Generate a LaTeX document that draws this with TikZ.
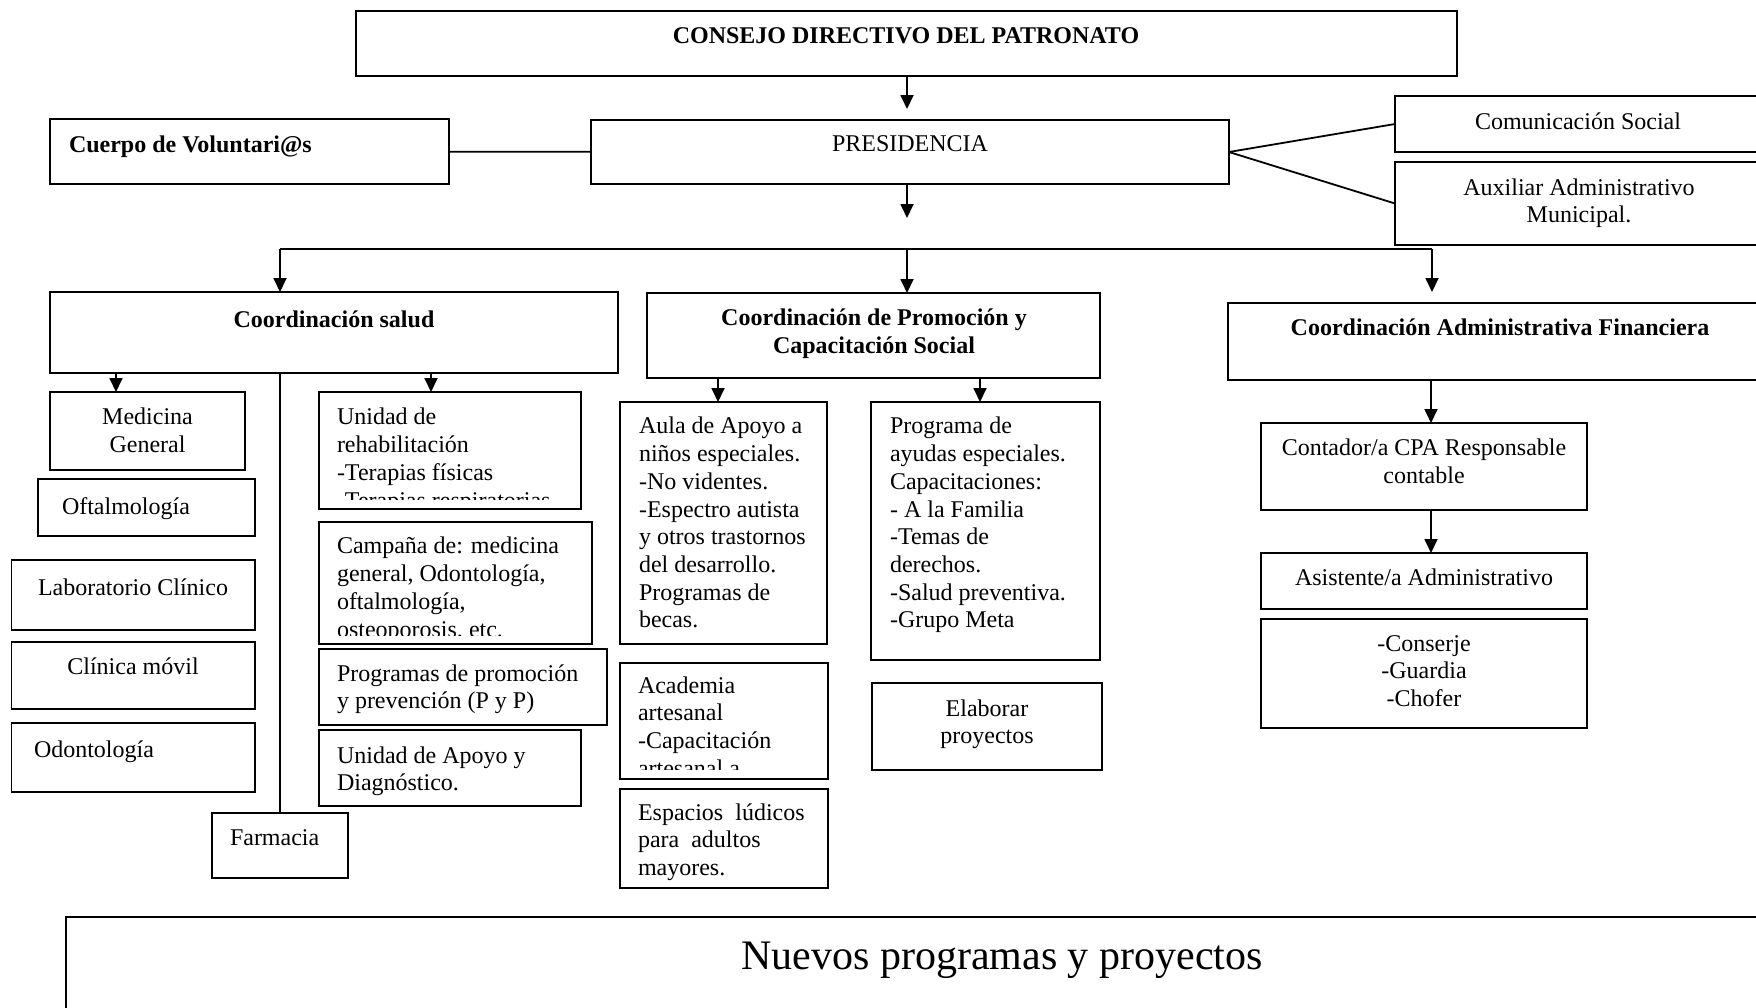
\documentclass[tikz,border=0pt]{standalone}
\usepackage{fontspec}
\setmainfont{Liberation Serif}
\usetikzlibrary{arrows.meta}
\begin{document}
\begin{tikzpicture}[x=1pt,y=-1pt,
  bx/.style={draw, line width=1.8pt, inner sep=0pt, outer sep=0pt, anchor=north west},
  tx/.style={inner sep=0pt, outer sep=0pt, font=\fontsize{24}{27.7}\selectfont, align=left, anchor=north west},
  tc/.style={tx, align=center, anchor=north},
  arr/.style={line width=1.8pt, -{Triangle[width=13pt,length=14pt]}},
  ln/.style={line width=1.8pt}]
\useasboundingbox (0,0) rectangle (1756,1007);
\fill[white] (0,0) rectangle (1756,1007);
\clip (0,0) rectangle (1756,1007);

% ---------- boxes ----------
\node[bx, minimum width=1101, minimum height=65] (consejo) at (356,11) {};
\node[bx, minimum width=399, minimum height=65] (vol) at (50,119) {};
\node[bx, minimum width=638, minimum height=64] (pres) at (591,120) {};
\node[bx, minimum width=385, minimum height=56] (com) at (1395,96) {};
\node[bx, minimum width=385, minimum height=83] (aux) at (1395,162) {};
\node[bx, minimum width=568, minimum height=81] (salud) at (50,292) {};
\node[bx, minimum width=453, minimum height=85] (promo) at (647,293) {};
\node[bx, minimum width=552, minimum height=77] (admin) at (1228,303) {};
\node[bx, minimum width=195, minimum height=78] (medgen) at (50,392) {};
\node[bx, minimum width=217, minimum height=57] (oft) at (38,479) {};
\node[bx, minimum width=243.5, minimum height=70] (lab) at (11.5,560) {};
\node[bx, minimum width=243.5, minimum height=67] (clin) at (11.5,642) {};
\node[bx, minimum width=243.5, minimum height=69] (odon) at (11.5,723) {};
\node[bx, minimum width=136, minimum height=65] (farm) at (212,813) {};
\node[bx, minimum width=262, minimum height=117] (rehab) at (319,392) {};
\node[bx, minimum width=273, minimum height=122] (camp) at (319,522) {};
\node[bx, minimum width=288, minimum height=76] (prom) at (319,649) {};
\node[bx, minimum width=262, minimum height=76] (diag) at (319,730) {};
\node[bx, minimum width=207, minimum height=242] (aula) at (620,402) {};
\node[bx, minimum width=229, minimum height=258] (ayud) at (871,402) {};
\node[bx, minimum width=208, minimum height=116] (acad) at (620,663) {};
\node[bx, minimum width=208, minimum height=99] (esp) at (620,789) {};
\node[bx, minimum width=230, minimum height=87] (elab) at (872,683) {};
\node[bx, minimum width=326, minimum height=87] (cont) at (1261,423) {};
\node[bx, minimum width=326, minimum height=56] (asis) at (1261,553) {};
\node[bx, minimum width=326, minimum height=109] (cons) at (1261,619) {};
\node[bx, minimum width=1900, minimum height=200] (nuevos) at (66,917) {};

% ---------- texts ----------
\node[tc, font=\fontsize{24}{27.7}\selectfont\bfseries] (consejo-t) at (906,23.8) {\strut CONSEJO DIRECTIVO DEL PATRONATO};
\node[tx, font=\fontsize{24}{27.7}\selectfont\bfseries] (vol-t) at (69,133) {\strut Cuerpo de Voluntari@s};
\node[tc] (pres-t) at (910,132.6) {\strut PRESIDENCIA};
\node[tc] (com-t) at (1578,109.8) {\strut Comunicación Social};
\node[tc] (aux-t) at (1579,175.8) {\strut Auxiliar Administrativo\\Municipal.};
\node[tc, font=\fontsize{24}{27.7}\selectfont\bfseries] (salud-t) at (334,308.6) {\strut Coordinación salud};
\node[tc, font=\fontsize{24}{27.7}\selectfont\bfseries] (promo-t) at (874,306.4) {\strut Coordinación de Promoción y\\Capacitación Social};
\node[tc, font=\fontsize{24}{27.7}\selectfont\bfseries] (admin-t) at (1500,316.6) {\strut Coordinación Administrativa Financiera};
\node[tc] (medgen-t) at (147.5,405.6) {\strut Medicina\\General};
\node[tx] (oft-t) at (62,495) {\strut Oftalmología};
\node[tc] (lab-t) at (133,576.6) {\strut Laboratorio Clínico};
\node[tc] (clin-t) at (133,654.6) {\strut Clínica móvil};
\node[tx] (odon-t) at (34,738) {\strut Odontología};
\node[tx] (farm-t) at (230,825.6) {\strut Farmacia};
\begin{scope}
  \clip (319,392) rectangle (581,499);
  \node[tx] (rehab-t) at (337,405.6) {\strut Unidad de\\rehabilitación\\-Terapias físicas\\-Terapias respiratorias};
\end{scope}
\begin{scope}
  \clip (319,522) rectangle (592,635);
  \node[tx] (camp-t) at (337,534.6) {\strut Campaña de: medicina\\general, Odontología,\\oftalmología,\\osteoporosis, etc.};
\end{scope}
\node[tx] (prom-t) at (337,661.6) {\strut Programas de promoción\\y prevención (P y P)};
\node[tx] (diag-t) at (337,743.6) {\strut Unidad de Apoyo y\\Diagnóstico.};
\node[tx] (aula-t) at (639,414.6) {\strut Aula de Apoyo a\\niños especiales.\\-No videntes.\\-Espectro autista\\y otros trastornos\\del desarrollo.\\Programas de\\becas.};
\node[tx] (ayud-t) at (890,414.6) {\strut Programa de\\ayudas especiales.\\Capacitaciones:\\- A la Familia\\-Temas de\\derechos.\\-Salud preventiva.\\-Grupo Meta};
\begin{scope}
  \clip (620,663) rectangle (828,769);
  \node[tx] (acad-t) at (638,673.6) {\strut Academia\\artesanal\\-Capacitación\\artesanal a};
\end{scope}
\node[tx] (esp-t) at (638,800.6) {\strut Espacios\ \ lúdicos\\para\ \ adultos\\mayores.};
\node[tc] (elab-t) at (987,696.6) {\strut Elaborar\\proyectos};
\node[tc] (cont-t) at (1424,436.6) {\strut Contador/a CPA Responsable\\contable};
\node[tc] (asis-t) at (1424,566.6) {\strut Asistente/a Administrativo};
\node[tc] (cons-t) at (1424,631.6) {\strut -Conserje\\-Guardia\\-Chofer};
\node[inner sep=0pt, anchor=base, font=\fontsize{42}{48}\selectfont] (nuevos-t) at (1002,969) {Nuevos programas y proyectos};

% ---------- connectors ----------
\coordinate (busL) at (280,249);
\coordinate (busM) at (907,249);
\coordinate (busR) at (1432,249);
\coordinate (presOut) at (907,218);
\draw[arr, shorten >=11pt] (consejo.south -| busM) -- (busM |- pres.north);
\draw[arr] (pres.south -| busM) -- (presOut);
\draw[ln] (busL) -- (busR);
\draw[arr] (busL) -- (busL |- salud.north);
\draw[arr] (busM) -- (busM |- promo.north);
\draw[arr, shorten >=11pt] (busR) -- (busR |- admin.north);
\draw[ln] (vol) -- (pres);
\draw[ln] (pres.east) -- (com.west);
\draw[ln] (pres.east) -- (aux.west);

\coordinate (s1) at (116,373);
\coordinate (s2) at (431,373);
\coordinate (s3) at (280,373);
\draw[arr] (s1) -- (s1 |- medgen.north);
\draw[arr] (s2) -- (s2 |- rehab.north);
\draw[ln] (s3) -- (s3 |- farm.north);

\coordinate (p1) at (718,378);
\coordinate (p2) at (980,378);
\draw[arr] (p1) -- (p1 |- aula.north);
\draw[arr] (p2) -- (p2 |- ayud.north);

\coordinate (a1) at (1431,380);
\coordinate (a2) at (1431,510);
\draw[arr] (a1) -- (a1 |- cont.north);
\draw[arr] (a2) -- (a2 |- asis.north);
\end{tikzpicture}
\end{document}
